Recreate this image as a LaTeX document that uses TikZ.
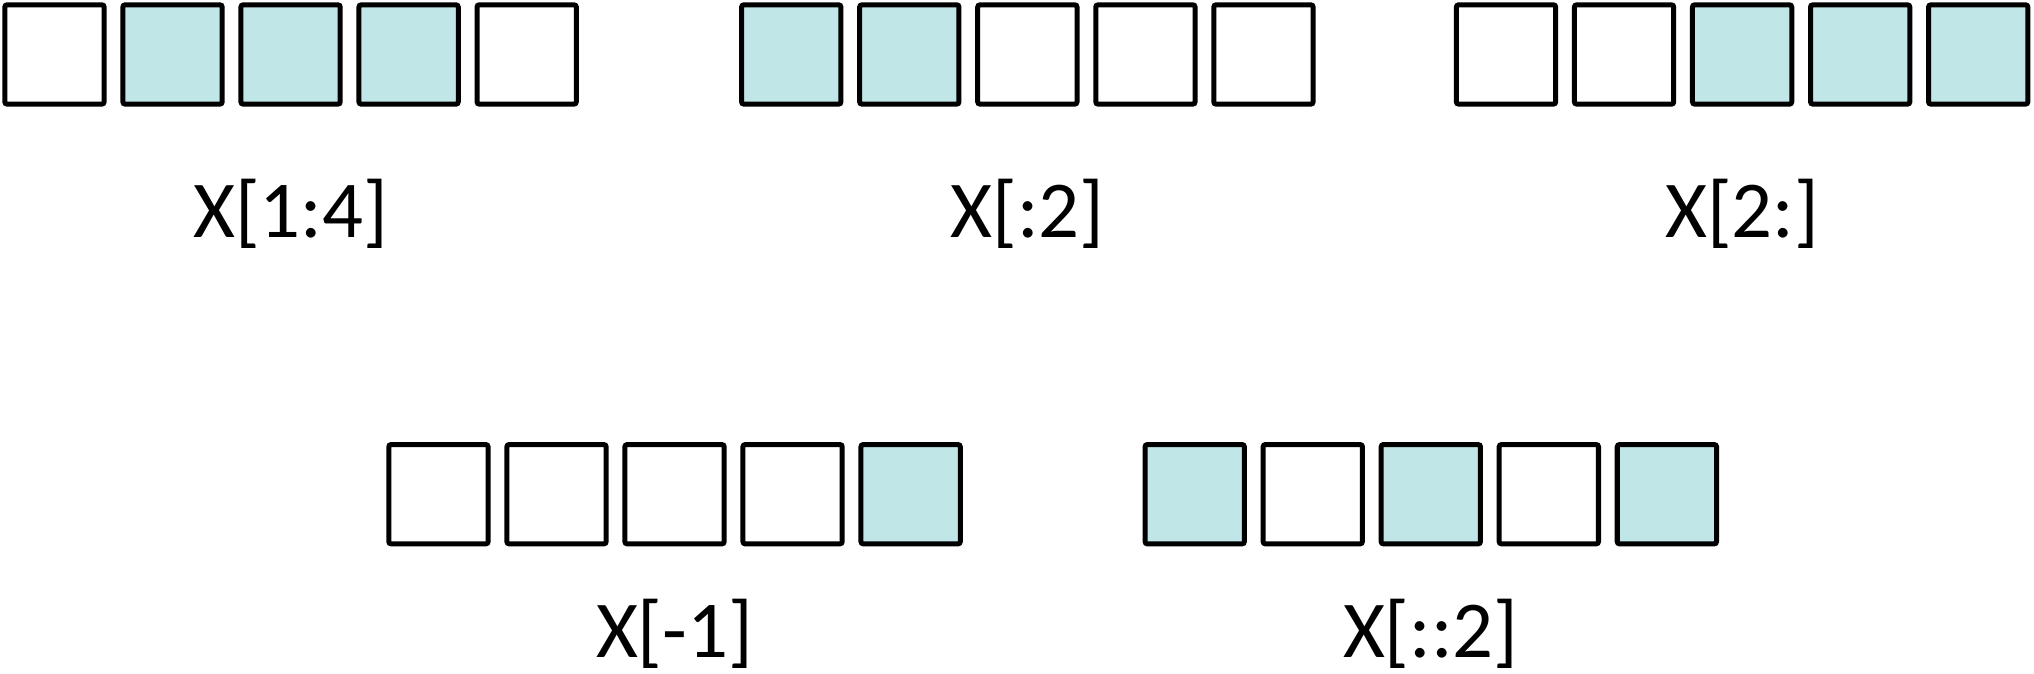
\documentclass[tikz,border=0pt]{standalone}
\usepackage{fontspec}
\setmainfont{Carlito}
\usepackage{xcolor}
\definecolor{slicefill}{RGB}{193,230,232}

\begin{document}
\begin{tikzpicture}[x=0.01cm, y=-0.01cm,
    cell/.style={draw, line width=1.1pt, rounded corners=0.5pt,
                 minimum width=0.765cm, minimum height=0.765cm, inner sep=0pt},
    lbl/.style={font=\fontsize{17.7}{20}\selectfont, anchor=base}
  ]
    \useasboundingbox (0,0) rectangle (1568,519);
    % top row
    \foreach \i/\f in {0/white,1/slicefill,2/slicefill,3/slicefill,4/white}
      \node[cell, fill=\f] (a\i) at (42+91*\i,42) {};
    \foreach \i/\f in {0/slicefill,1/slicefill,2/white,3/white,4/white}
      \node[cell, fill=\f] (b\i) at (610+91*\i,42) {};
    \foreach \i/\f in {0/white,1/white,2/slicefill,3/slicefill,4/slicefill}
      \node[cell, fill=\f] (c\i) at (1161+91*\i,42) {};
    \node[lbl] (la) at (224,183) {X[1:4]};
    \node[lbl] (lb) at (792,183) {X[:2]};
    \node[lbl] (lc) at (1343,183) {X[2:]};
    % bottom row
    \foreach \i/\f in {0/white,1/white,2/white,3/white,4/slicefill}
      \node[cell, fill=\f] (d\i) at (338+91*\i,381) {};
    \foreach \i/\f in {0/slicefill,1/white,2/slicefill,3/white,4/slicefill}
      \node[cell, fill=\f] (e\i) at (921+91*\i,381) {};
    \node[lbl] (ld) at (520,507) {X[-1]};
    \node[lbl] (le) at (1103,507) {X[::2]};
\end{tikzpicture}
\end{document}
